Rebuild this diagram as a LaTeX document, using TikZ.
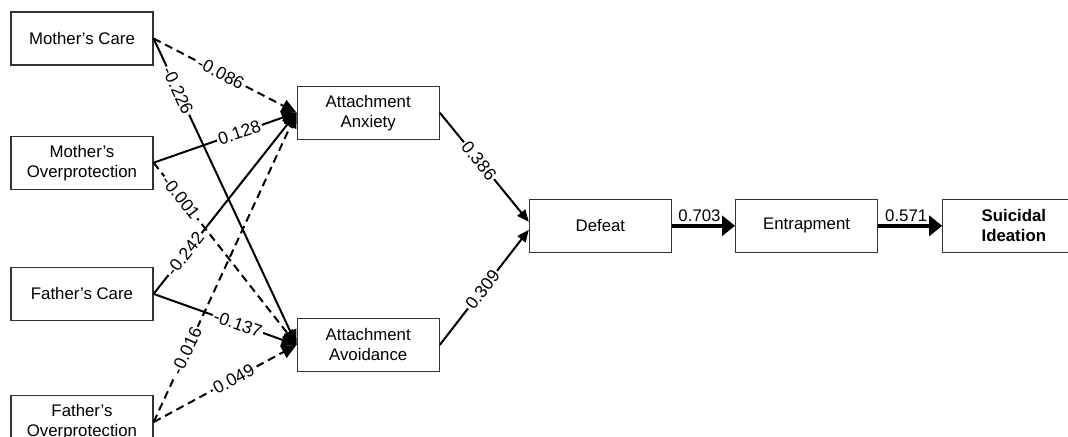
\documentclass[tikz,border=0pt]{standalone}
\usepackage{fontspec}
\setmainfont{Liberation Sans}
\usetikzlibrary{positioning,arrows.meta,calc}

\begin{document}
\begin{tikzpicture}[
  every node/.style={font=\fontsize{8.4}{10}\selectfont},
  var/.style={rectangle, draw=black!80, fill=white, minimum width=71pt,
              minimum height=26.5pt, inner sep=1pt, align=center,
              line width=0.6pt},
  arr/.style={-{Triangle[length=7.5pt,width=6.5pt]}, line width=1pt},
  darr/.style={arr, dash pattern=on 4pt off 2.5pt},
  thick arr/.style={-{Triangle[length=6.5pt,width=10pt]}, line width=1.8pt},
  coef/.style={fill=white, inner sep=0.8pt, sloped,
               font=\fontsize{8.8}{10}\selectfont},
]

% Frame (boxes at the edges are cut off)
\useasboundingbox (-41pt,19.25pt) rectangle (493pt,-198.75pt);
\clip (-41pt,19.25pt) rectangle (493pt,-198.75pt);

% Parenting variables
\node[var] (MC) at (0,0) {Mother's Care};
\node[var, below=35pt of MC] (MO) {Mother's\\Overprotection};
\node[var, below=38.5pt of MO] (FC) {Father's Care};
\node[var, below=37pt of FC] (FO) {Father's\\Overprotection};

% Attachment
\node[var, below right=10pt and 71.5pt of MC] (AX) {Attachment\\Anxiety};
\node[var, below=89pt of AX] (AV) {Attachment\\Avoidance};

% Defeat -> Entrapment -> Suicidal Ideation
\node[var, right=44.5pt of $(AX.east)!0.5!(AV.east)$, yshift=1.5pt] (D) {Defeat};
\node[var, right=31.5pt of D] (E) {Entrapment};
\node[var, right=32pt of E, font=\fontsize{8.4}{10}\selectfont\bfseries] (SI) {Suicidal\\Ideation};

% Paths to attachment anxiety
\draw[darr] (MC.east) -- (AX.west) node[coef, pos=0.47] {-0.086};
\draw[arr] (MO.east) -- (AX.west) node[coef, pos=0.6] {0.128};
\draw[arr] (FC.east) -- (AX.west) node[coef, pos=0.22] {-0.242};
\draw[darr] (FO.east) -- (AX.west) node[coef, pos=0.23] {-0.016};

% Paths to attachment avoidance
\draw[arr] (MC.east) -- (AV.west) node[coef, pos=0.17] {-0.226};
\draw[darr] (MO.east) -- (AV.west) node[coef, pos=0.19] {-0.001};
\draw[arr] (FC.east) -- (AV.west) node[coef, pos=0.59] {-0.137};
\draw[darr] (FO.east) -- (AV.west) node[coef, pos=0.56] {0.049};

% Attachment -> defeat
\draw[arr, -{Triangle[length=6pt,width=5pt]}] (AX.east) -- ([yshift=2pt]D.west) node[coef, pos=0.44] {0.386};
\draw[arr, -{Triangle[length=6pt,width=5pt]}] (AV.east) -- ([yshift=-2pt]D.west) node[coef, pos=0.48] {0.309};

% Main chain
\draw[thick arr] (D) -- (E) node[midway, above, inner sep=1pt, xshift=-2pt] {0.703};
\draw[thick arr] (E) -- (SI) node[midway, above, inner sep=1pt, xshift=-2pt] {0.571};

\end{tikzpicture}
\end{document}
